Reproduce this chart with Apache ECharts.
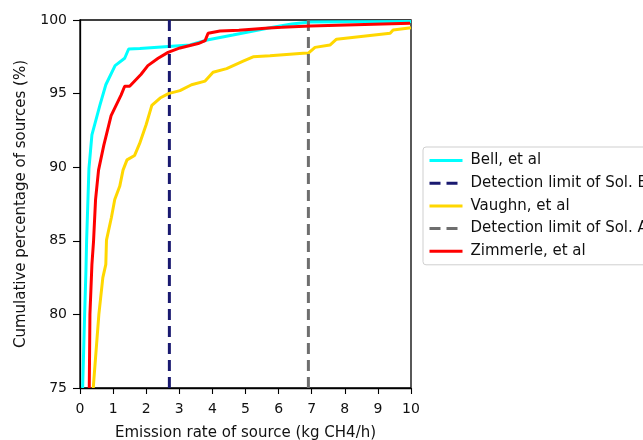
<!DOCTYPE html>
<html><head><meta charset="utf-8">
<script src="https://cdn.jsdelivr.net/npm/echarts@6/dist/echarts.min.js"></script>
<style>html,body{margin:0;padding:0;background:#fff}#c{width:643px;height:440px}</style>
</head><body><div id="c"></div>
<script>
const bellX = [0.08,0.14,0.18,0.2,0.27,0.36,0.6,0.78,1.06,1.35,1.47,1.81,3.32,3.84,4.62,5.74,6.4,6.95,10];
const bellY = [75,80,83,85,89.9,92.2,94.2,95.6,96.9,97.4,98.03,98.07,98.3,98.64,98.98,99.48,99.73,99.86,99.9];
const vaughnX = [0.4,0.57,0.69,0.78,0.8,0.95,1.05,1.2,1.3,1.42,1.65,1.8,2.0,2.17,2.42,2.67,3.02,3.37,3.78,4.02,4.43,4.93,5.23,5.74,6.74,6.9,7.1,7.55,7.75,9.37,9.46,10];
const vaughnY = [75,80,82.5,83.4,85.05,86.6,87.8,88.7,89.8,90.5,90.8,91.6,92.9,94.2,94.7,95.0,95.2,95.6,95.85,96.45,96.7,97.2,97.5,97.57,97.74,97.75,98.14,98.3,98.7,99.1,99.32,99.48];
const zimX = [0.28,0.3,0.36,0.41,0.47,0.56,0.72,0.94,1.24,1.35,1.5,1.84,2.05,2.36,2.66,3.02,3.57,3.78,3.87,4.23,4.8,5.7,6.1,6.95,9.97];
const zimY = [75,80,83.4,85,87.8,89.8,91.5,93.5,94.9,95.5,95.5,96.3,96.9,97.4,97.8,98.1,98.4,98.6,99.1,99.25,99.3,99.46,99.5,99.6,99.78];
const limitB = 2.7;
const limitA = 6.9;
const names = ['Bell, et al','Detection limit of Sol. B','Vaughn, et al','Detection limit of Sol. A','Zimmerle, et al'];
const zip = (xs, ys) => xs.map((x, i) => [x, ys[i]]);
const ch = echarts.init(document.getElementById('c'), null, {renderer: 'canvas'});
const font = 'DejaVu Sans';
const lineSeries = (name, data, color, type) => ({
  name, type: 'line', data, symbol: 'none', showSymbol: false, animation: false,
  lineStyle: {color, width: 3, type: type || 'solid', dashOffset: 0},
  itemStyle: {color}, z: 2, clip: true
});
const sB = lineSeries(names[1], [[limitB,100],[limitB,75]], '#191970', [11,6]);
const sA = lineSeries(names[3], [[limitA,100],[limitA,75]], '#6e6e6e', [11,6]);
ch.setOption({
  animation: false,
  textStyle: {fontFamily: font},
  grid: {left: 80, top: 20, width: 331, height: 368, show: true, borderColor: '#000', borderWidth: 1.3, backgroundColor: 'transparent', outerBoundsMode: 'none', containLabel: false},
  xAxis: {
    type: 'value', min: 0, max: 10, interval: 1,
    name: 'Emission rate of source (kg CH4/h)', nameLocation: 'middle', nameGap: 38,
    nameTextStyle: {fontSize: 15, color: '#111', fontFamily: font},
    axisLine: {show: true, onZero: false, lineStyle: {color: '#000', width: 1.3}},
    axisTick: {show: true, length: 6, lineStyle: {color: '#000', width: 1.1}},
    axisLabel: {fontSize: 14, color: '#111', margin: 14, fontFamily: font},
    splitLine: {show: false}
  },
  yAxis: {
    type: 'value', min: 75, max: 100, interval: 5,
    name: 'Cumulative percentage of sources (%)', nameLocation: 'middle', nameGap: 51,
    nameTextStyle: {fontSize: 15, color: '#111', fontFamily: font},
    axisLine: {show: true, onZero: false, lineStyle: {color: '#000', width: 1.3}},
    axisTick: {show: true, length: 7, lineStyle: {color: '#000', width: 1.1}},
    axisLabel: {fontSize: 14, color: '#111', margin: 13, fontFamily: font},
    splitLine: {show: false}
  },
  legend: {
    data: names, orient: 'vertical', left: 423, top: 147,
    itemWidth: 33, itemHeight: 14, itemGap: 7.7,
    padding: [6, 8, 6, 5],
    borderColor: '#cfcfcf', borderWidth: 1, borderRadius: 3,
    itemStyle: {opacity: 0},
    lineStyle: {width: 3},
    textStyle: {fontSize: 15, lineHeight: 14, color: '#111', fontFamily: font, padding: [0,0,0,3]}
  },
  series: [
    lineSeries(names[0], zip(bellX, bellY), '#00ffff'),
    sB,
    lineSeries(names[2], zip(vaughnX, vaughnY), '#ffd700'),
    sA,
    lineSeries(names[4], zip(zimX, zimY), '#ff0000')
  ]
});
</script></body></html>
